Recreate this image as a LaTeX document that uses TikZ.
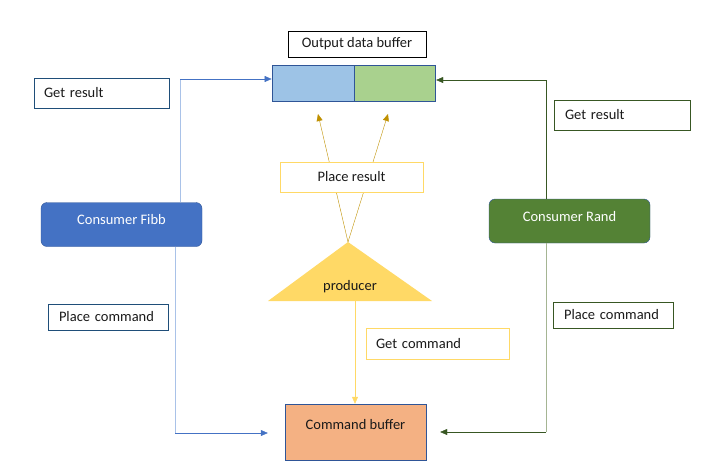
\documentclass[tikz,border=0pt]{standalone}
\usepackage{fontspec}
\setmainfont{Carlito}
\usepackage{tikz}
\usetikzlibrary{positioning,arrows.meta}
\definecolor{fibbblue}{HTML}{4472C4}
\definecolor{lineblue}{HTML}{A9C2E8}
\definecolor{darkblue}{HTML}{1F4E79}
\definecolor{edgeblue}{HTML}{2F5597}
\definecolor{randgreen}{HTML}{548235}
\definecolor{darkgreen}{HTML}{385723}
\definecolor{linegreen}{HTML}{A5B593}
\definecolor{gold}{HTML}{BF9000}
\definecolor{lightgold}{HTML}{FFD966}
\definecolor{cellblue}{HTML}{9DC3E6}
\definecolor{cellgreen}{HTML}{A9D18E}
\definecolor{cmdorange}{HTML}{F4B183}
\definecolor{ink}{HTML}{1A1A1A}
\tikzset{txt/.style={font=\fontsize{14.5pt}{17pt}\selectfont},
	 tag/.style={draw,fill=white,txt,text=ink,inner sep=0pt,minimum height=#1},
	 tagleft/.style={tag=26pt,align=left,text width=#1},
	 cell/.style={draw=edgeblue,thick,inner sep=0pt,minimum height=36pt},
	 consumer/.style={draw=edgeblue,rounded corners=6pt,text=white,txt,
	   minimum width=161pt,minimum height=44pt,text height=10pt,text depth=10pt},
	 tip/.style={-{Triangle[length=7pt,width=6pt]}},
	 node distance = 1
	 }

\begin{document}
\begin{tikzpicture}[x=1pt,y=-1pt] % producer / consumers
        \useasboundingbox (0,0) rectangle (725,475);
        \node[cell,fill=cellblue,minimum width=82pt] (bufL) at (313,83) {};
        \node[cell,fill=cellgreen,minimum width=81pt] (bufR) [right=0pt of bufL] {};
        \node[tag=26pt,draw=black,minimum width=138pt] (outlbl) at (357,44) {Output data buffer};
        \node[consumer,fill=fibbblue] (fibb) at (121.5,224.5) {Consumer Fibb};
        \node[consumer,fill=randgreen] (rand) at (569.5,221) {Consumer Rand};
        \node[draw=edgeblue,fill=cmdorange,txt,text=ink,minimum width=141pt,
          minimum height=56pt,text height=10pt,text depth=15pt] (cmdbuf) at (355.5,432) {Command buffer};
        % producer
        \coordinate (apex) at (348,242);
        \fill[lightgold] (apex) -- (432,301) -- (268,301) -- cycle;
        \node[txt,text=ink] (prod) at (350,287) {producer};
        \draw[gold,tip] (apex) -- (318,114);
        \draw[gold,tip] (apex) -- (388,114);
        \draw[lightgold,tip] (355,301) -- (cmdbuf.north -| 355,0);
        % labels
        \node[tag=30pt,draw=lightgold,minimum width=143pt] (placeres) at (351.5,177) {Place result};
        \node[tagleft=123pt,draw=lightgold,minimum height=31pt,inner xsep=10pt] (getcmd) at (437.5,343.5) {Get command};
        \node[tagleft=115pt,draw=darkblue,minimum height=30pt,inner xsep=10pt] (getL) at (101.5,93) {Get result};
        \node[tagleft=98pt,draw=darkblue,inner xsep=11pt] (placeL) at (108,317) {Place command};
        \node[tagleft=114pt,draw=darkgreen,minimum height=30pt,inner xsep=11pt] (getR) at (622,115) {Get result};
        \node[tagleft=98pt,draw=darkgreen,inner xsep=11pt] (placeR) at (613,315) {Place command};
        % consumer connectors
        \coordinate (f1) at (180,79);
        \coordinate (f2) at (175,433);
        \coordinate (r1) at (546,80);
        \coordinate (r2) at (546,432);
        \draw[lineblue,thick] (fibb.north -| f1) -- (f1);
        \draw[fibbblue,tip] (f1) -- (f1 -| bufL.west);
        \draw[lineblue,thick] (fibb.south -| f2) -- (f2);
        \draw[fibbblue,tip,shorten >=17pt] (f2) -- (f2 -| cmdbuf.west);
        \draw[darkgreen] (rand.north -| r1) -- (r1);
        \draw[darkgreen,tip] (r1) -- (r1 -| bufR.east);
        \draw[linegreen,thick] (rand.south -| r2) -- (r2);
        \draw[darkgreen,tip,shorten >=14pt] (r2) -- (r2 -| cmdbuf.east);
     \end{tikzpicture}
\end{document}
